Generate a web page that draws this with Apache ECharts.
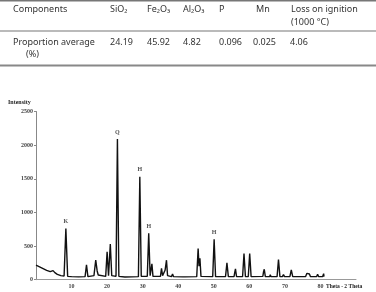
<!DOCTYPE html>
<html>
<head>
<meta charset="utf-8">
<script src="https://cdn.jsdelivr.net/npm/echarts@6/dist/echarts.min.js"></script>
<style>
	html, body { margin: 0; padding: 0; background: #fff; }
	#main { width: 376px; height: 292px; }
</style>
</head>
<body>
<div id="main"></div>
<script>
// table data
const components = ['Components', 'SiO₂', 'Fe₂O₃', 'Al₂O₃', 'P', 'Mn', 'Loss on ignition'];
const rowLabel = 'Proportion average';
const proportions = ['24.19', '45.92', '4.82', '0.096', '0.025', '4.06'];

// XRD pattern: [2theta, intensity]
const pattern = [
	[0, 215], [1, 190], [2, 165], [3, 140], [4, 120], [4.8, 135], [5.3, 105], [6, 80], [7, 60],
	[7.9, 55], [8.4, 760], [8.9, 50], [10, 45], [12, 42], [13.8, 45], [14.2, 220], [14.6, 45],
	[16.3, 60], [16.8, 290], [17.2, 130], [17.5, 70], [18, 45], [19.6, 50], [20.0, 415], [20.4, 60],
	[20.6, 80], [20.9, 530], [21.3, 60], [22.5, 50], [22.9, 2090], [23.3, 50], [25, 40], [28.8, 45],
	[29.2, 1530], [29.6, 50], [31.3, 50], [31.7, 690], [32.1, 60], [32.3, 60], [32.6, 235], [32.9, 50],
	[33.3, 70], [33.6, 50], [35.0, 50], [35.3, 170], [35.6, 60], [36.0, 80], [36.3, 140], [36.7, 290],
	[37.0, 60], [38.1, 45], [38.4, 85], [38.7, 45], [41.3, 42], [41.6, 70], [41.9, 42], [45.2, 45],
	[45.6, 465], [45.85, 200], [46.1, 320], [46.4, 50], [49.7, 45], [50.1, 600], [50.5, 45],
	[53.3, 45], [53.7, 250], [54.1, 45], [55.7, 45], [55.9, 110], [56.1, 160], [56.4, 45],
	[58.1, 45], [58.5, 390], [58.9, 45], [59.7, 45], [60.1, 390], [60.5, 45], [63.8, 50], [64.0, 120],
	[64.2, 155], [64.5, 45], [65.7, 45], [65.9, 75], [66.1, 45], [67.8, 45], [68.2, 300], [68.6, 45],
	[69.3, 45], [69.6, 75], [69.9, 45], [71.4, 45], [71.8, 145], [72.2, 45], [73.5, 45], [73.8, 60],
	[74.1, 45], [75.8, 45], [76.2, 95], [76.5, 70], [76.9, 85], [77.2, 45], [78.9, 45], [79.2, 80],
	[79.5, 45], [80.6, 45], [80.9, 90], [81.0, 45]
];

// phase labels over peaks
const phaseLabels = [[8.4, 760, 'K'], [22.9, 2090, 'Q'], [29.2, 1530, 'H'], [31.7, 690, 'H'], [50.1, 600, 'H']];

(function () {
	let myChart = echarts.init(document.getElementById('main'))
	const tableFont = '9px "Noto Sans", "DejaVu Sans", sans-serif'
	const serif = '"Liberation Serif", "DejaVu Serif", serif'
	const colX = [13, 110, 147, 183, 219, 256, 291]
	const valX = [110, 147, 183, 219, 253, 290]

	let graphics = []
	// table rules
	graphics.push({ type: 'rect', shape: { x: 0, y: 0, width: 376, height: 1.5 }, style: { fill: '#777' } })
	graphics.push({ type: 'rect', shape: { x: 0, y: 30.5, width: 376, height: 1 }, style: { fill: '#777' } })
	graphics.push({ type: 'rect', shape: { x: 0, y: 64.5, width: 376, height: 2 }, style: { fill: '#888' } })
	components.forEach(function (c, i) {
		graphics.push({ type: 'text', x: colX[i], y: 9.5, style: { text: c, font: tableFont, fill: '#333', textVerticalAlign: 'middle' } })
	})
	graphics.push({ type: 'text', x: 291, y: 22.7, style: { text: '(1000 °C)', font: tableFont, fill: '#333', textVerticalAlign: 'middle' } })
	graphics.push({ type: 'text', x: 13, y: 42.3, style: { text: rowLabel, font: tableFont, fill: '#333', textVerticalAlign: 'middle' } })
	graphics.push({ type: 'text', x: 26, y: 54.3, style: { text: '(%)', font: tableFont, fill: '#333', textVerticalAlign: 'middle' } })
	proportions.forEach(function (v, i) {
		graphics.push({ type: 'text', x: valX[i], y: 42.3, style: { text: v, font: tableFont, fill: '#333', textVerticalAlign: 'middle' } })
	})
	// axis titles
	graphics.push({ type: 'text', x: 8, y: 102, style: { text: 'Intensity', font: 'bold 6px ' + serif, fill: '#222', textVerticalAlign: 'middle' } })
	graphics.push({ type: 'text', x: 326, y: 287, style: { text: 'Theta - 2 Theta', font: 'bold 5.5px ' + serif, fill: '#222', textVerticalAlign: 'middle' } })

	const option = {
		animation: false,
		grid: { left: 36, right: 20, top: 111.5, bottom: 12.3 },
		graphic: graphics,
		xAxis: {
			type: 'value',
			min: 0,
			max: 90,
			interval: 10,
			splitLine: { show: false },
			axisTick: { show: false },
			axisLine: { lineStyle: { color: '#999', width: 1 } },
			axisLabel: {
				fontSize: 6,
				fontFamily: serif,
				fontWeight: 'bold',
				color: '#444',
				margin: 4,
				formatter: function (v) { return (v === 0 || v === 90) ? '' : String(v) }
			}
		},
		yAxis: {
			type: 'value',
			min: 0,
			max: 2500,
			interval: 500,
			splitLine: { show: false },
			axisLine: { show: true, lineStyle: { color: '#888', width: 1 } },
			axisTick: { show: true, length: 2, lineStyle: { color: '#888' } },
			axisLabel: {
				fontSize: 6, fontFamily: serif, fontWeight: 'bold', color: '#444', margin: 3,
				formatter: function (v) { return String(v) }
			}
		},
		series: [
			{
				type: 'line',
				data: pattern,
				showSymbol: false,
				lineStyle: { color: '#111', width: 1.4 }
			},
			{
				type: 'scatter',
				data: phaseLabels.map(function (p) { return { value: [p[0], p[1]], name: p[2] } }),
				symbolSize: 0,
				label: {
					show: true,
					position: 'top',
					distance: 4,
					formatter: '{b}',
					fontSize: 6,
					fontFamily: serif,
					fontWeight: 'bold',
					color: '#222'
				}
			}
		]
	}
	myChart.setOption(option)
})();
</script>
</body>
</html>
